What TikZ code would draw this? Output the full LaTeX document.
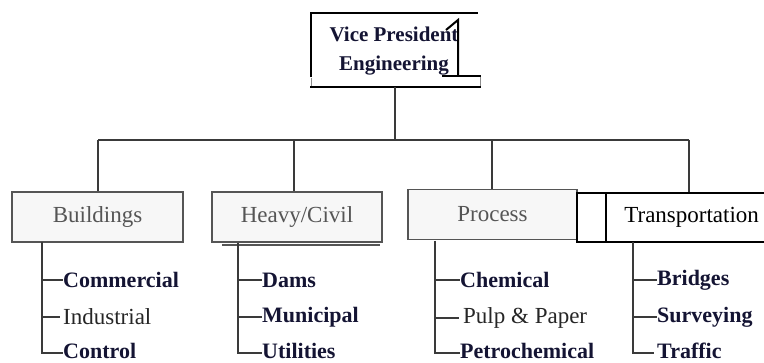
\documentclass[tikz,border=0pt]{standalone}
\usepackage{fontspec}
\setmainfont{Liberation Serif}
\begin{document}
\definecolor{ink}{rgb}{0.08,0.08,0.2}
\definecolor{deptgray}{HTML}{555555}
\definecolor{linegray}{HTML}{3A3A3A}
\begin{tikzpicture}[x=1pt,y=-1pt,
  bus/.style={draw=linegray,line width=2pt},
  leg/.style={draw=linegray,line width=2pt},
  dept/.style={draw=deptgray,line width=1.3pt,fill=white!97!black,text=deptgray,
    font=\fontsize{23}{26}\selectfont,minimum height=50pt,inner sep=0pt},
  deptblack/.style={draw=black,line width=1.3pt,fill=white,text=black,
    font=\fontsize{23}{26}\selectfont,minimum height=49pt,inner sep=0pt},
  itembold/.style={anchor=west,inner sep=0pt,text=ink,font=\bfseries\fontsize{22}{24}\selectfont},
  itemreg/.style={anchor=west,inner sep=0pt,text=black!85,font=\fontsize{23}{24}\selectfont},
  vpline/.style={draw=black,line width=2pt}]
\useasboundingbox (0,0) rectangle (764,363);
\fill[white] (0,0) rectangle (764,363);

% top box
\node (vp) [align=center,inner sep=0pt,text=ink,font=\bfseries\fontsize{21}{29}\selectfont]
  at (394,51) {Vice President\\Engineering};
\draw[vpline] (311,77) -- (311,13) -- (478,13);
\draw[draw=black!45,line width=1pt] (311,78) -- (311,87) (480,77) -- (480,87);
\draw[vpline] (310,87) -- (481,87);
\draw[vpline] (442,76) -- (481,76);
\draw[vpline] (458,76) -- (458,20) -- (446,30);
\coordinate (vpbot) at (395,87);

% departments
\node (bld) [dept,minimum width=171pt] at (97.5,217) {Buildings};
\node (hvy) [dept,minimum width=170pt] at (297,217) {Heavy/Civil};
\draw[draw=deptgray,line width=1.3pt] (222,245) -- (380,245);
\node (prc) [dept,minimum width=169pt] at (492.5,214.5) {Process};
\draw[draw=black,line width=1.3pt,fill=white] (577,193) rectangle (606,242);
\node (trn) [deptblack,minimum width=170pt,anchor=west] at (606,217.5) {Transportation};

% bus from the top box to the departments
\coordinate (busc) at (395,140);
\coordinate (b1) at (98,140);
\coordinate (b2) at (294,140);
\coordinate (b3) at (492,140);
\coordinate (b4) at (689,140);
\draw[bus] (vpbot) -- (busc);
\draw[bus] (b1) -- (b4);
\draw[bus] (b1) -- (b1 |- bld.north);
\draw[bus] (b2) -- (b2 |- hvy.north);
\draw[bus] (b3) -- (b3 |- prc.north);
\draw[bus] (b4) -- (b4 |- trn.north);

% Buildings
\node (b-com) [itembold] at (63,280) {Commercial};
\node (b-ind) [itemreg] at (63,317) {Industrial};
\node (b-con) [itembold] at (63,351) {Control};
\draw[leg] (42,242) -- (42,353) -- (b-con.west |- 0,353);
\draw[leg] (42,280) -- (b-com.west);
\draw[leg,line width=1.5pt] (42,317) -- ([xshift=-3pt]b-ind.west);

% Heavy/Civil
\node (h-dam) [itembold] at (262,280) {Dams};
\node (h-mun) [itembold] at (262,317) {Municipal};
\node (h-utl) [itembold] at (262,351) {Utilities};
\draw[leg] (238,243) -- (238,353) -- (h-utl.west |- 0,353);
\draw[leg] (238,280) -- (h-dam.west);
\draw[leg] (238,317) -- (h-mun.west);

% Process
\node (p-che) [itembold] at (460,280) {Chemical};
\node (p-pulp) [itemreg] at (463,318) {Pulp \& Paper};
\node (p-pet) [itembold] at (460,351) {Petrochemical};
\draw[leg] (435,241) -- (435,353) -- (p-pet.west |- 0,353);
\draw[leg] (435,280) -- (p-che.west);
\draw[leg,line width=1.5pt] (435,318) -- ([xshift=-4pt]p-pulp.west);

% Transportation
\node (t-brg) [itembold] at (657,280) {Bridges};
\node (t-srv) [itembold] at (657,317) {Surveying};
\node (t-trf) [itembold] at (657,351) {Traffic};
\draw[leg] (633,242) -- (633,353) -- ([xshift=-3pt]t-trf.west |- 0,353);
\draw[leg] (633,280) -- (t-brg.west);
\draw[leg] (633,317) -- (t-srv.west);
\end{tikzpicture}
\end{document}
